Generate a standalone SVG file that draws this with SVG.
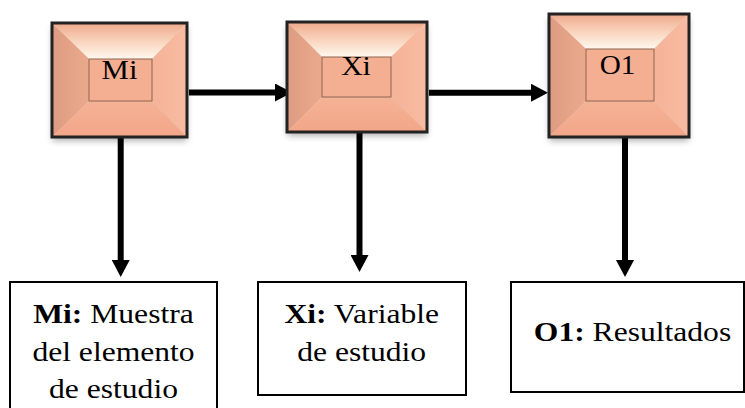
<svg xmlns="http://www.w3.org/2000/svg" width="745" height="408" viewBox="0 0 745 408">
<style>
text{font-family:'Liberation Serif','Times New Roman','DejaVu Serif',serif;font-size:27px;fill:#000;text-anchor:middle}
.b{font-weight:bold}
.frame{fill:none;stroke:#000;stroke-width:2}
.outer{fill:none;stroke:#222;stroke-width:3}
.inner{fill:#F4AE91;stroke:#8f6452;stroke-width:1}
.conn{stroke:#000;stroke-width:6;fill:none;marker-end:url(#ah)}
.top{fill:url(#gTop)}
.left{fill:url(#gLeft)}
.right{fill:url(#gRight)}
.bot{fill:url(#gBot)}
</style>
<defs>
<linearGradient id="gTop" x1="0" y1="0" x2="0" y2="1">
<stop offset="0" stop-color="#EFA98B"/>
<stop offset="0.5" stop-color="#F9D3BC"/>
<stop offset="1" stop-color="#FFF8EE"/>
</linearGradient>
<linearGradient id="gLeft" x1="0" y1="0" x2="1" y2="0">
<stop offset="0" stop-color="#DD9C82"/>
<stop offset="1" stop-color="#EBA98C"/>
</linearGradient>
<linearGradient id="gRight" x1="0" y1="0" x2="1" y2="0">
<stop offset="0" stop-color="#F5B398"/>
<stop offset="1" stop-color="#F8BBA1"/>
</linearGradient>
<linearGradient id="gBot" x1="0" y1="0" x2="0" y2="1">
<stop offset="0" stop-color="#F5B295"/>
<stop offset="1" stop-color="#F2A688"/>
</linearGradient>
<filter id="sh" x="-10%" y="-10%" width="120%" height="130%">
<feDropShadow dx="0" dy="4" stdDeviation="3" flood-color="#000" flood-opacity="0.3"/>
</filter>
<marker id="ah" markerUnits="userSpaceOnUse" markerWidth="18" markerHeight="18" refX="0" refY="9" orient="auto">
<path d="M0,0 L17,9 L0,18 Z" fill="#000"/>
</marker>
</defs>

<g id="connectors">
<line class="conn" x1="189" y1="92.5" x2="275" y2="92.5"/>
<line class="conn" x1="429" y1="92.7" x2="531" y2="92.7"/>
<line class="conn" x1="120.7" y1="138" x2="120.7" y2="260"/>
<line class="conn" x1="359.5" y1="133" x2="359.5" y2="255"/>
<line class="conn" x1="625" y1="138" x2="625" y2="260"/>
</g>

<g id="node-mi">
<g filter="url(#sh)">
<polygon class="top" points="52,23 187,23 152,59 89,59"/>
<polygon class="left" points="52,23 89,59 89,101 52,137"/>
<polygon class="right" points="187,23 187,137 152,101 152,59"/>
<polygon class="bot" points="52,137 187,137 152,101 89,101"/>
</g>
<rect class="inner" x="89" y="59" width="63" height="42"/>
<rect class="outer" x="52" y="23" width="135" height="114"/>
<text font-family="Liberation Serif, serif" transform="translate(119.5,78.5) scale(1.14,1)">Mi</text>
</g>

<g id="node-xi">
<g filter="url(#sh)">
<polygon class="top" points="287,22 427,22 391,57 322,57"/>
<polygon class="left" points="287,22 322,57 322,97 287,132"/>
<polygon class="right" points="427,22 427,132 391,97 391,57"/>
<polygon class="bot" points="287,132 427,132 391,97 322,97"/>
</g>
<rect class="inner" x="322" y="57" width="69" height="40"/>
<rect class="outer" x="287" y="22" width="140" height="110"/>
<text font-family="Liberation Serif, serif" transform="translate(356,75) scale(1.1,1)">Xi</text>
</g>

<g id="node-o1">
<g filter="url(#sh)">
<polygon class="top" points="549,14 689,14 654,49 586,49"/>
<polygon class="left" points="549,14 586,49 586,101 549,137"/>
<polygon class="right" points="689,14 689,137 654,101 654,49"/>
<polygon class="bot" points="549,137 689,137 654,101 586,101"/>
</g>
<rect class="inner" x="586" y="49" width="68" height="52"/>
<rect class="outer" x="549" y="14" width="140" height="123"/>
<text font-family="Liberation Serif, serif" transform="translate(617.5,74) scale(1.08,1)">O1</text>
</g>

<g id="desc-mi">
<rect class="frame" x="10" y="282" width="207" height="140"/>
<text transform="translate(113.5,322.5) scale(1.17,1)"><tspan class="b">Mi:</tspan> Muestra</text>
<text transform="translate(113.5,361) scale(1.17,1)">del elemento</text>
<text transform="translate(113.5,398) scale(1.17,1)">de estudio</text>
</g>

<g id="desc-xi">
<rect class="frame" x="258" y="282" width="208" height="113"/>
<text transform="translate(361.7,322.5) scale(1.17,1)"><tspan class="b">Xi:</tspan> Variable</text>
<text transform="translate(361.7,360.5) scale(1.17,1)">de estudio</text>
</g>

<g id="desc-o1">
<rect class="frame" x="511" y="282" width="233" height="110"/>
<text transform="translate(632.5,340.5) scale(1.17,1)"><tspan class="b">O1:</tspan> Resultados</text>
</g>
</svg>
